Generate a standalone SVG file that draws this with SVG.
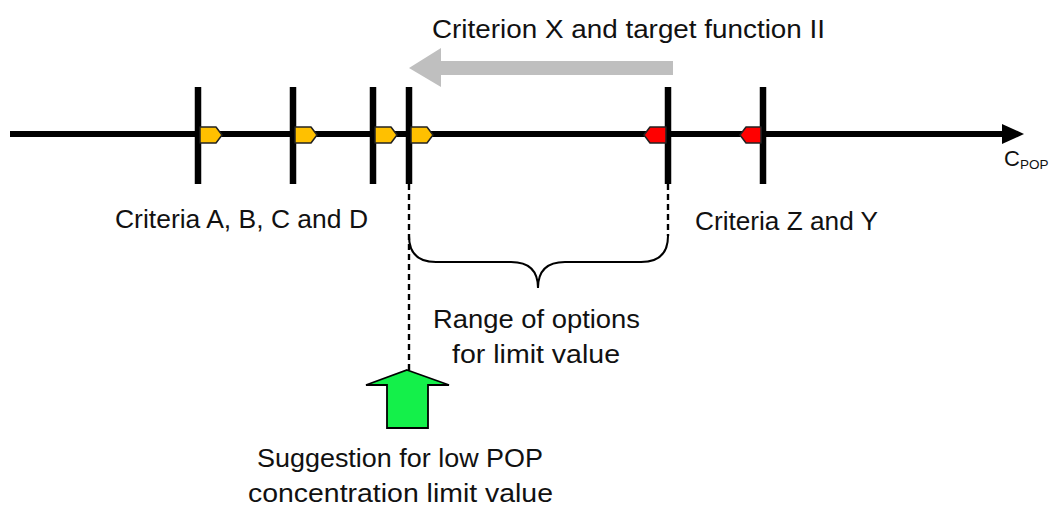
<svg xmlns="http://www.w3.org/2000/svg" width="1051" height="506" viewBox="0 0 1051 506">
<style>
  text { font-family: "Liberation Sans", Arial, sans-serif; fill: #111; }
  .lbl { font-size: 25px; }
  .tick { stroke: #000; stroke-width: 6.5; }
  .dash { stroke: #000; stroke-width: 2.4; stroke-dasharray: 6 4; fill: none; }
  .yel { fill: #FFC000; stroke: #222; stroke-width: 1.5; stroke-linejoin: round; }
  .red { fill: #FF0000; stroke: #222; stroke-width: 1.5; stroke-linejoin: round; }
</style>
<rect width="1051" height="506" fill="#fff"/>
<g id="connectors">
  <line x1="10" y1="134" x2="1004" y2="134" stroke="#000" stroke-width="6"/>
  <polygon points="1002,124 1024,134 1002,144" fill="#000"/>
  <line class="dash" x1="409" y1="184" x2="409" y2="370"/>
  <line class="dash" x1="668" y1="184" x2="668" y2="236"/>
  <path d="M409,236 Q409,262 436,262 L511,262 Q538,262 538,288 Q538,262 565,262 L641,262 Q668,262 668,236" fill="none" stroke="#000" stroke-width="2"/>
</g>
<g id="gray-arrow">
  <polygon points="673,61 441,61 441,48 409,68 441,87 441,75 673,75" fill="#BFBFBF"/>
</g>
<g id="tick-A">
  <line class="tick" x1="198" y1="87" x2="198" y2="184"/>
  <polygon class="yel" points="200,127 216,127 222,135 216,143 200,143"/>
</g>
<g id="tick-B">
  <line class="tick" x1="293" y1="87" x2="293" y2="184"/>
  <polygon class="yel" points="295,127 311,127 317,135 311,143 295,143"/>
</g>
<g id="tick-C">
  <line class="tick" x1="373" y1="87" x2="373" y2="184"/>
  <polygon class="yel" points="375,127 391,127 397,135 391,143 375,143"/>
</g>
<g id="tick-D">
  <line class="tick" x1="409" y1="87" x2="409" y2="184"/>
  <polygon class="yel" points="411,127 427,127 433,135 427,143 411,143"/>
</g>
<g id="tick-Z">
  <line class="tick" x1="668" y1="87" x2="668" y2="184"/>
  <polygon class="red" points="666,127 650,127 644,135 650,143 666,143"/>
</g>
<g id="tick-Y">
  <line class="tick" x1="763" y1="87" x2="763" y2="184"/>
  <polygon class="red" points="761,127 746,127 740,135 746,143 761,143"/>
</g>
<g id="green-arrow">
  <polygon points="407,370 449,385 428,385 428,428 387,428 387,385 366,385" fill="#14F04A" stroke="#000" stroke-width="1.8" stroke-linejoin="miter"/>
</g>
<g id="labels">
  <text class="lbl" x="432" y="38" textLength="393" lengthAdjust="spacingAndGlyphs">Criterion X and target function II</text>
  <text class="lbl" x="115" y="228" textLength="253" lengthAdjust="spacingAndGlyphs">Criteria A, B, C and D</text>
  <text class="lbl" x="695" y="230" textLength="183" lengthAdjust="spacingAndGlyphs">Criteria Z and Y</text>
  <text x="1004" y="166" font-size="22">C<tspan font-size="13.5" dy="3">POP</tspan></text>
  <text class="lbl" x="433" y="328" textLength="207" lengthAdjust="spacingAndGlyphs">Range of options</text>
  <text class="lbl" x="452" y="363" textLength="168" lengthAdjust="spacingAndGlyphs">for limit value</text>
  <text class="lbl" x="257" y="467" textLength="286" lengthAdjust="spacingAndGlyphs">Suggestion for low POP</text>
  <text class="lbl" x="248" y="502" textLength="305" lengthAdjust="spacingAndGlyphs">concentration limit value</text>
</g>
</svg>
